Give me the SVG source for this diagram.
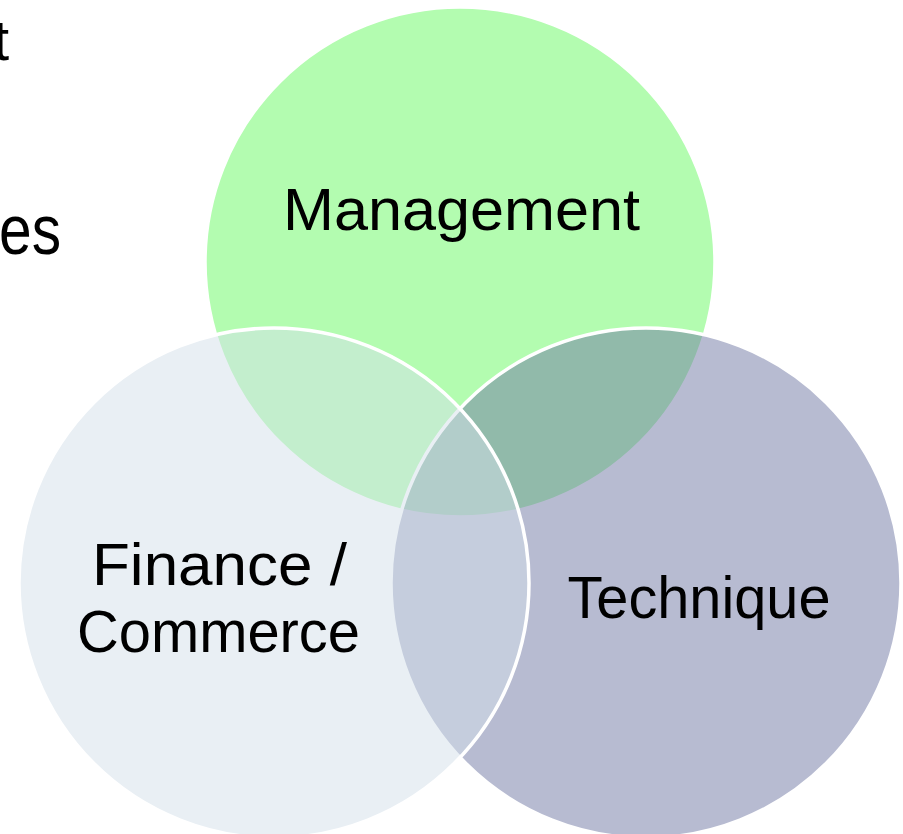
<svg xmlns="http://www.w3.org/2000/svg" width="903" height="834" viewBox="0 0 903 834">
  <style>
    .ring { stroke: #ffffff; stroke-width: 3.5; }
    .lbl { font-family: "Liberation Sans", Arial, sans-serif; font-size: 60px; fill: #000000; }
    .bg { font-family: "Liberation Sans", Arial, sans-serif; fill: #000000; }
  </style>
  <rect x="0" y="0" width="903" height="834" fill="#ffffff"/>
  <g id="background-text">
    <text class="bg" x="9" y="60" text-anchor="end" font-size="58">t</text>
    <text class="bg" x="-1" y="254" font-size="70" textLength="62" lengthAdjust="spacingAndGlyphs">es</text>
  </g>
  <g id="connectors"/>
  <g id="management">
    <circle class="ring" cx="460" cy="262" r="255" fill="#b3fcb0"/>
    <text class="lbl" x="461.5" y="230" text-anchor="middle" textLength="357" lengthAdjust="spacingAndGlyphs">Management</text>
  </g>
  <g id="technique">
    <circle class="ring" cx="646" cy="583" r="255" fill="#6f77a3" fill-opacity="0.5"/>
    <text class="lbl" x="699" y="618" text-anchor="middle" textLength="263" lengthAdjust="spacingAndGlyphs">Technique</text>
  </g>
  <g id="finance">
    <circle class="ring" cx="274" cy="583" r="255" fill="#d3dfe9" fill-opacity="0.5"/>
    <text class="lbl" x="219.5" y="585" text-anchor="middle" textLength="255" lengthAdjust="spacingAndGlyphs">Finance /</text>
    <text class="lbl" x="218.5" y="652" text-anchor="middle" textLength="283" lengthAdjust="spacingAndGlyphs">Commerce</text>
  </g>
</svg>
